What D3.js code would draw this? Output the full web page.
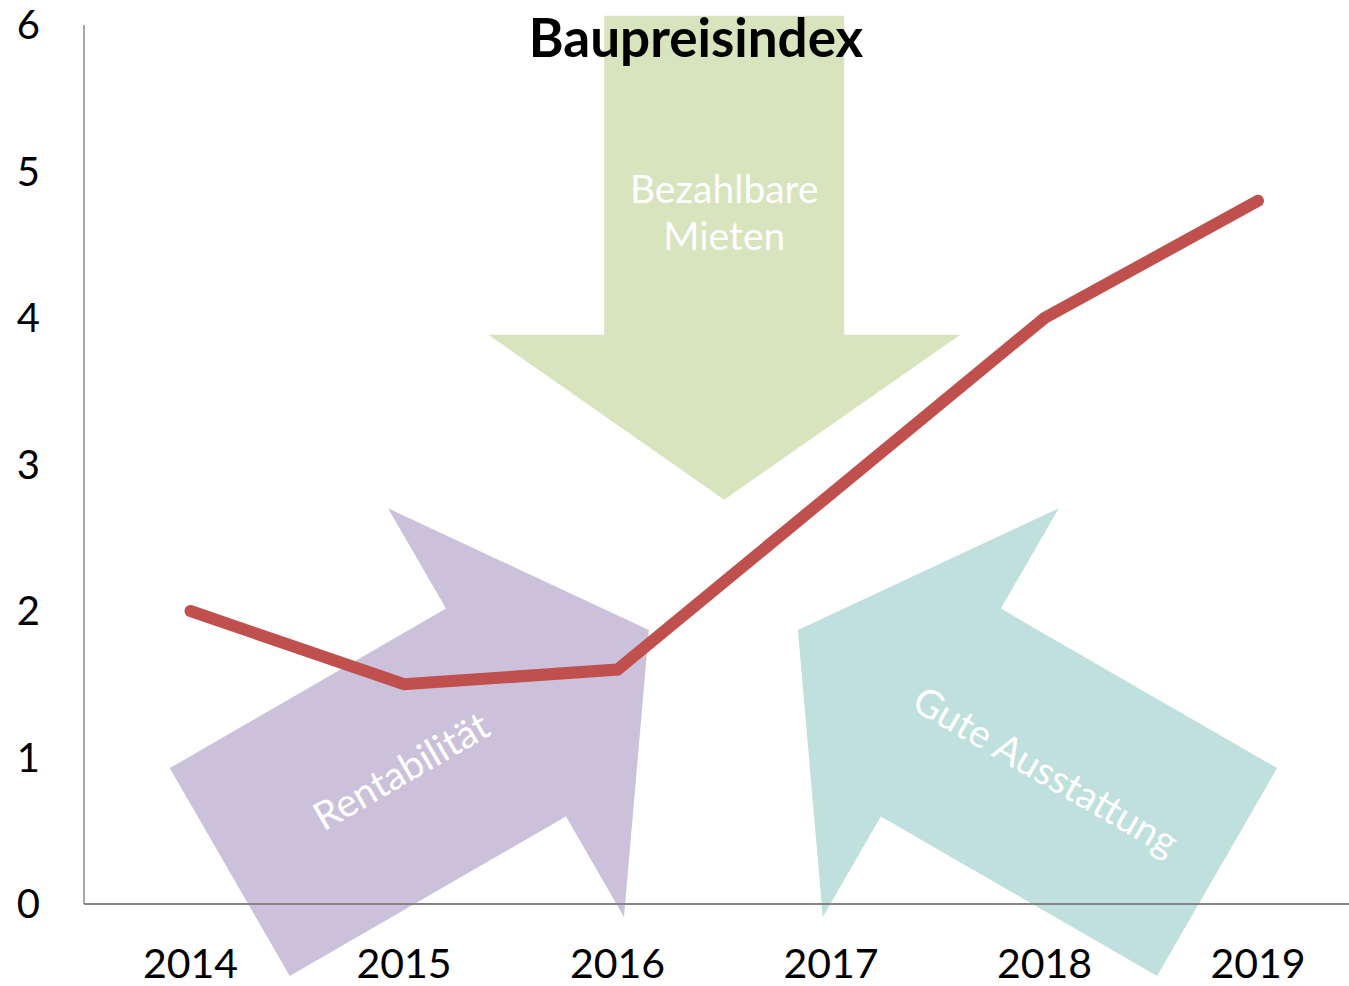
<!DOCTYPE html>
<html lang="de">
<head>
<meta charset="utf-8">
<title>Baupreisindex</title>
<style>
  body { margin: 0; background: #fff; }
  svg { display: block; font-family: Lato, "Open Sans", sans-serif; }
</style>
</head>
<body>
<script src="https://cdn.jsdelivr.net/npm/d3@7"></script>
<script>
// data
const years = ["2014", "2015", "2016", "2017", "2018", "2019"];
const values = [2.0, 1.5, 1.6, 2.8, 4.0, 4.8];
const yTicks = [0, 1, 2, 3, 4, 5, 6];
const title = "Baupreisindex";

// arrow annotations: tip given in chart units (year index, value)
const arrowLabels = [["Bezahlbare", "Mieten"], ["Rentabilität"], ["Gute Ausstattung"]];
const arrowTipX = [2.5, 2.147, 2.845];
const arrowTipY = [2.76, 1.87, 1.87];
const arrowAngle = [90, -30, 210];
const arrowTextAngle = [0, -30, 30];
const arrowColors = ["#d7e4bd", "#ccc1da", "#bfe0dc"];

const W = 1349, H = 986;
const x0 = 84, y0 = 904, yTop = 25;

const svg = d3.select("body").append("svg")
    .attr("width", W)
    .attr("height", H);

const x = d3.scaleBand()
    .domain(years)
    .range([83.75, 1364.75])
    .padding(0);
const xIdx = d3.scaleLinear()
    .domain([-0.5, years.length - 0.5])
    .range(x.range());
const y = d3.scaleLinear()
    .domain([0, 6])
    .range([y0, yTop]);

// arrow shape, pointing right, tip at origin
const shaftW = 240, shaftL = 319, headW = 472, headL = 165;
const arrowPts = [
  [-headL - shaftL, -shaftW / 2], [-headL, -shaftW / 2], [-headL, -headW / 2],
  [0, 0],
  [-headL, headW / 2], [-headL, shaftW / 2], [-headL - shaftL, shaftW / 2]
];

const arrows = svg.append("g").attr("class", "arrows");
arrowLabels.forEach((lab, i) => {
  const tx = xIdx(arrowTipX[i]), ty = y(arrowTipY[i]);
  arrows.append("path")
      .attr("d", d3.line()(arrowPts) + "Z")
      .attr("transform", `translate(${tx},${ty}) rotate(${arrowAngle[i]})`)
      .attr("fill", arrowColors[i]);
  const a = arrowAngle[i] * Math.PI / 180;
  const cx = tx - 285 * Math.cos(a), cy = ty - 285 * Math.sin(a);
  const t = arrows.append("text")
      .attr("transform", `translate(${cx},${cy}) rotate(${arrowTextAngle[i]})`)
      .attr("text-anchor", "middle")
      .attr("fill", "#fff")
      .style("font-size", "39px");
  lab.forEach((s, j) => {
    t.append("tspan")
        .attr("x", 0)
        .attr("y", (j - (lab.length - 1) / 2) * 47 + 12)
        .text(s);
  });
});

// axes
svg.append("line")
    .attr("x1", x0).attr("x2", x0)
    .attr("y1", y(6)).attr("y2", y0)
    .attr("stroke", "#a6a6a6").attr("stroke-width", 2);
svg.append("line")
    .attr("x1", x0).attr("x2", W)
    .attr("y1", y0).attr("y2", y0)
    .attr("stroke", "#868686").attr("stroke-width", 2);

svg.append("g").selectAll("text")
    .data(yTicks)
    .join("text")
    .attr("x", 40)
    .attr("y", d => y(d))
    .attr("dy", "0.36em")
    .attr("text-anchor", "end")
    .style("font-size", "40px")
    .text(d => d);

svg.append("g").selectAll("text")
    .data(years)
    .join("text")
    .attr("x", d => x(d) + x.bandwidth() / 2)
    .attr("y", 978)
    .attr("text-anchor", "middle")
    .style("font-size", "41px")
    .text(d => d);

// line
svg.append("path")
    .datum(values)
    .attr("d", d3.line()
        .x((d, i) => x(years[i]) + x.bandwidth() / 2)
        .y(d => y(d)))
    .attr("fill", "none")
    .attr("stroke", "#c0504d")
    .attr("stroke-width", 12)
    .attr("stroke-linecap", "round");

// title
svg.append("text")
    .attr("x", 696)
    .attr("y", 57)
    .attr("text-anchor", "middle")
    .style("font-size", "53px")
    .style("font-weight", "bold")
    .text(title);
</script>
</body>
</html>
